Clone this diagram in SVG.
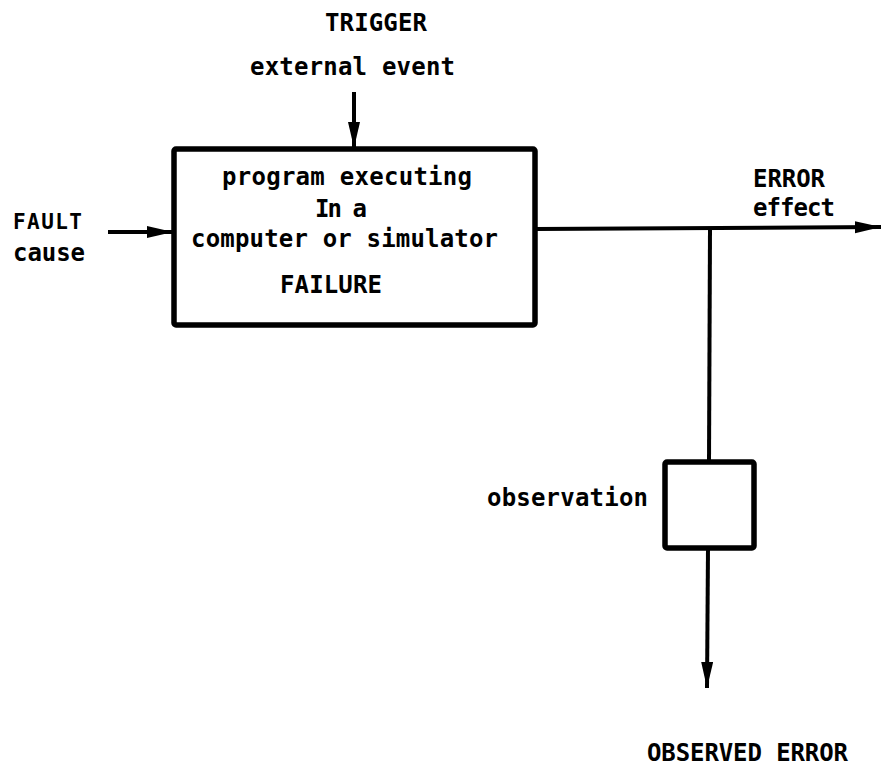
<svg xmlns="http://www.w3.org/2000/svg" width="881" height="767" viewBox="0 0 881 767">
  <style>
    .lbl { font-family: "DejaVu Sans Mono", "Liberation Mono", monospace; font-weight: bold; font-size: 24px; fill: #000; }
    .sm { font-size: 21px; }
    .box { fill: #fff; stroke: #000; stroke-width: 5.5; stroke-linejoin: round; }
    .wire { fill: none; stroke: #000; stroke-width: 4; }
  </style>
  <defs>
    <marker id="arrow" markerUnits="userSpaceOnUse" markerWidth="28" markerHeight="14" refX="26" refY="6" orient="auto">
      <path d="M0,0 L26,6 L0,12 Z" fill="#000"/>
    </marker>
  </defs>

  <!-- connectors -->
  <g id="connectors">
    <line class="wire" x1="354" y1="92" x2="354" y2="148" marker-end="url(#arrow)"/>
    <line class="wire" x1="108" y1="232" x2="173" y2="232" marker-end="url(#arrow)"/>
    <line class="wire" x1="536" y1="229" x2="881" y2="227" marker-end="url(#arrow)"/>
    <line class="wire" x1="710" y1="229" x2="709" y2="461"/>
    <line class="wire" x1="708" y1="548" x2="707" y2="688" marker-end="url(#arrow)"/>
  </g>

  <!-- main processing block -->
  <g id="program">
    <rect class="box" x="174" y="149" width="361" height="176" rx="2"/>
    <text class="lbl" x="222" y="185" textLength="250">program executing</text>
    <text class="lbl" x="315" y="217" textLength="52">In a</text>
    <text class="lbl" x="191" y="247" textLength="307">computer or simulator</text>
    <text class="lbl" x="280" y="293" textLength="102">FAILURE</text>
  </g>

  <!-- observation block -->
  <g id="observation">
    <rect class="box" x="665" y="462" width="89" height="86" rx="2"/>
    <text class="lbl" x="487" y="506" textLength="161">observation</text>
  </g>

  <g id="trigger">
    <text class="lbl" x="325" y="31" textLength="102">TRIGGER</text>
    <text class="lbl" x="250" y="75" textLength="205">external event</text>
  </g>

  <g id="fault">
    <text class="lbl sm" x="13" y="229" textLength="69">FAULT</text>
    <text class="lbl" x="13" y="261" textLength="72">cause</text>
  </g>

  <g id="error">
    <text class="lbl" x="753" y="187" textLength="72">ERROR</text>
    <text class="lbl" x="753" y="216" textLength="82">effect</text>
  </g>

  <g id="observed-error">
    <text class="lbl" x="647" y="761" textLength="201">OBSERVED ERROR</text>
  </g>
</svg>
